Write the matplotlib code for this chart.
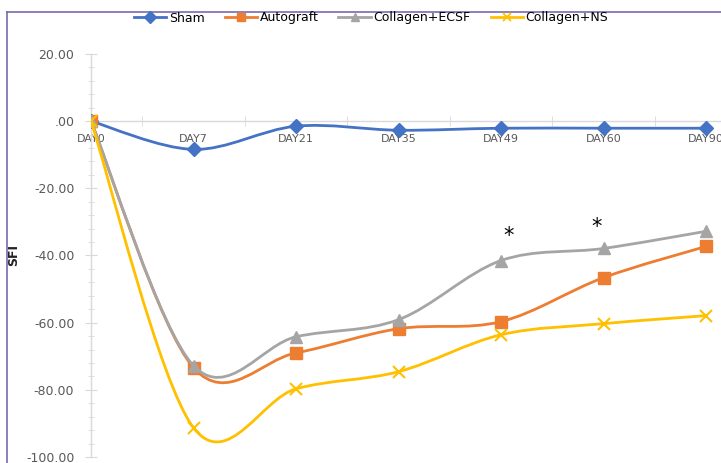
import numpy as np
import matplotlib
matplotlib.use("Agg")
import matplotlib.pyplot as plt
from matplotlib.path import Path
from matplotlib.patches import PathPatch
from matplotlib.lines import Line2D
from matplotlib.ticker import MultipleLocator, FixedLocator

days = ["DAY0", "DAY7", "DAY21", "DAY35", "DAY49", "DAY60", "DAY90"]
sham = [0.0, -8.4, -1.5, -2.7, -2.1, -2.1, -2.1]
autograft = [0.0, -73.4, -69.0, -61.8, -59.7, -46.6, -37.3]
collagen_ecsf = [0.0, -72.8, -64.2, -59.1, -41.5, -37.9, -32.8]
collagen_ns = [0.0, -91.3, -79.7, -74.6, -63.6, -60.3, -57.9]
series_names = ["Sham", "Autograft", "Collagen+ECSF", "Collagen+NS"]
y_ticks = [-100, -80, -60, -40, -20, 0, 20]
y_labels = ["-100.00", "-80.00", "-60.00", "-40.00", "-20.00", ".00", "20.00"]
star_points = [(4.07, -34.3), (4.93, -31.6)]

colors = ["#4472C4", "#ED7D31", "#A5A5A5", "#FFC000"]
markers = ["D", "s", "^", "x"]
msizes = [7, 8, 8, 8]


def smooth_path(xs, ys):
    # Excel-like smoothed line: cubic bezier through the points
    pts = np.column_stack([xs, ys]).astype(float)
    n = len(pts)
    verts = [pts[0]]
    codes = [Path.MOVETO]
    for i in range(n - 1):
        p0 = pts[max(i - 1, 0)]
        p1 = pts[i]
        p2 = pts[i + 1]
        p3 = pts[min(i + 2, n - 1)]
        c1 = p1 + (p2 - p0) / 6.0
        c2 = p2 - (p3 - p1) / 6.0
        verts += [c1, c2, p2]
        codes += [Path.CURVE4] * 3
    return Path(verts, codes)


fig = plt.figure(figsize=(7.21, 4.63), dpi=100)
ax = fig.add_axes([91 / 721, 6 / 463, 630 / 721, 403 / 463])

x = np.arange(len(days))
data = [sham, autograft, collagen_ecsf, collagen_ns]
for k, vals in enumerate(data):
    patch = PathPatch(smooth_path(x, vals), facecolor="none", edgecolor=colors[k],
                      lw=2.0, zorder=3 + 2 * k, capstyle="round")
    ax.add_patch(patch)
    if markers[k] == "x":
        ax.plot(x, vals, linestyle="none", marker="x", ms=msizes[k], mew=1.5,
                color=colors[k], zorder=4 + 2 * k)
    else:
        ax.plot(x, vals, linestyle="none", marker=markers[k], ms=msizes[k],
                color=colors[k], mec=colors[k], zorder=4 + 2 * k)

for sx, sy in star_points:
    ax.text(sx, sy, "*", fontsize=15, ha="center", va="center", color="black")

ax.set_xlim(0, 6 * 630 / 615)
ax.set_ylim(-100, 20)

ax.spines["top"].set_visible(False)
ax.spines["right"].set_visible(False)
ax.spines["bottom"].set_position(("data", 0))
ax.spines["bottom"].set_color("#D9D9D9")
ax.spines["left"].set_color("#D9D9D9")
ax.spines["bottom"].set_linewidth(1.0)
ax.spines["left"].set_linewidth(1.0)

ax.set_xticks(x)
ax.set_xticklabels(days)
ax.xaxis.set_minor_locator(FixedLocator(np.arange(0.5, 6.6, 1.0)))
ax.tick_params(axis="x", which="major", length=0, pad=9, labelsize=8,
               labelcolor="#595959")
ax.tick_params(axis="x", which="minor", direction="inout", length=7,
               color="#D9D9D9")

ax.set_yticks(y_ticks)
ax.set_yticklabels(y_labels)
ax.yaxis.set_minor_locator(MultipleLocator(4))
ax.tick_params(axis="y", which="major", direction="inout", length=8,
               color="#D9D9D9", labelsize=9, labelcolor="#595959", pad=8)
ax.tick_params(axis="y", which="minor", direction="inout", length=5,
               color="#D9D9D9")
ax.set_ylabel("SFI", fontsize=9, fontweight="bold", color="#222222")
ax.yaxis.set_label_coords(-71 / 630, 0.5)

handles = []
for k, name in enumerate(series_names):
    if markers[k] == "x":
        h = Line2D([], [], color=colors[k], lw=2.0, marker="x", ms=6, mew=1.3)
    else:
        h = Line2D([], [], color=colors[k], lw=2.0, marker=markers[k], ms=6,
                   mec=colors[k])
    handles.append(h)
fig.legend(handles, series_names, loc="center", bbox_to_anchor=(371 / 721, 1 - 18 / 463),
           ncol=4, frameon=False, fontsize=9, handlelength=2.6, columnspacing=1.6,
           handletextpad=0.2)

# chart area border (cut off at right and bottom)
fig.add_artist(Line2D([7 / 721, 7 / 721], [0, 1 - 12 / 463], color="#7B68B0",
                      lw=1.2, transform=fig.transFigure))
fig.add_artist(Line2D([7 / 721, 1], [1 - 12 / 463, 1 - 12 / 463], color="#7B68B0",
                      lw=1.2, transform=fig.transFigure))

fig.savefig("out.png", dpi=100)
